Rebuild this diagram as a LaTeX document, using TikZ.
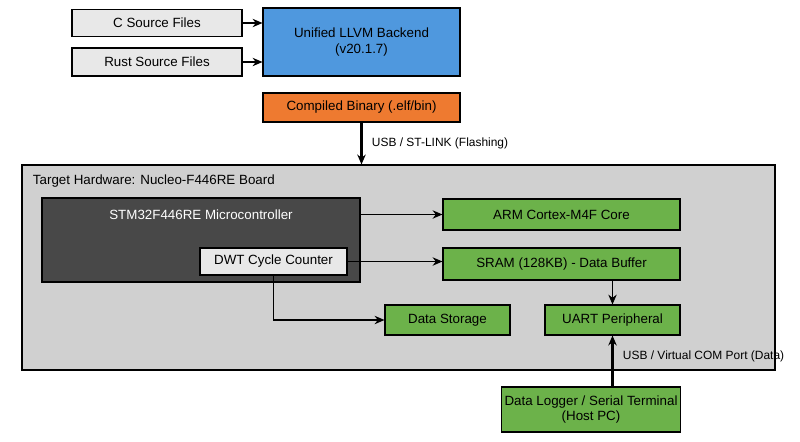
\documentclass[tikz,border=0pt]{standalone}
\usepackage{fontspec}
\setmainfont{Liberation Sans}
\usetikzlibrary{arrows.meta,positioning}
\definecolor{srcgray}{RGB}{232,232,232}
\definecolor{llvmblue}{RGB}{79,152,222}
\definecolor{binorange}{RGB}{238,122,48}
\definecolor{boardgray}{RGB}{208,208,208}
\definecolor{mcudark}{RGB}{72,72,72}
\definecolor{periphgreen}{RGB}{108,178,74}

\begin{document}
\begin{tikzpicture}[x=0.025cm,y=-0.025cm,>={Stealth[length=7pt,width=6pt]},
  every node/.style={font=\fontsize{9.5}{11}\selectfont},
  box/.style={draw=black,thick,minimum height=#1*0.025cm,inner sep=2pt},
  box/.default=28,
  flow/.style={->,thick},
  bigflow/.style={->,line width=2.2pt},
  linklbl/.style={right,xshift=3pt,font=\fontsize{8.5}{10}\selectfont}]
  \useasboundingbox (0,0) rectangle (800,441);

  % sources and toolchain
  \node[box=27,fill=srcgray,minimum width=170*0.025cm] (csrc) at (157,23) {C Source Files};
  \node[box=28,fill=srcgray,minimum width=170*0.025cm] (rustsrc) at (157,62) {Rust Source Files};
  \node[box=68,fill=llvmblue,minimum width=197*0.025cm,align=center] (llvm) at (361.5,42) {Unified LLVM Backend\\(v20.1.7)};
  \node[box=29,fill=binorange,minimum width=197*0.025cm] (bin) at (361.5,107.5) {Compiled Binary (.elf/bin)};

  % board
  \node[draw=black,thick,fill=boardgray,minimum width=753*0.025cm,minimum height=205*0.025cm] (board) at (398.5,267.5) {};
  \node[anchor=west] (boardlbl) at (28,181) {Target Hardware: Nucleo-F446RE Board};
  \node[draw=black,thick,fill=mcudark,minimum width=318*0.025cm,minimum height=84*0.025cm] (mcu) at (201,240) {};
  \node[text=white] (mcultl) at (201,215) {STM32F446RE Microcontroller};
  \node[box=27,fill=srcgray,minimum width=147*0.025cm] (dwt) at (273.5,261.5) {DWT Cycle Counter};

  \node[box=31,fill=periphgreen,minimum width=237*0.025cm] (arm) at (561.5,214.5) {ARM Cortex-M4F Core};
  \node[box=32,fill=periphgreen,minimum width=237*0.025cm] (sram) at (561.5,264) {SRAM (128KB) - Data Buffer};
  \node[box=30,fill=periphgreen,minimum width=125*0.025cm] (store) at (447.5,320) {Data Storage};
  \node[box=30,fill=periphgreen,minimum width=135*0.025cm] (uart) at (612.5,320) {UART Peripheral};
  \node[box=45,fill=periphgreen,minimum width=178*0.025cm,align=center] (host) at (591,409.5) {Data Logger / Serial Terminal\\(Host PC)};

  % connectors
  \draw[flow] (csrc) -- (csrc -| llvm.west);
  \draw[flow] (rustsrc) -- (rustsrc -| llvm.west);
  \draw[bigflow] (bin) -- node[linklbl] {USB / ST-LINK (Flashing)} (bin |- board.north);
  \draw[flow] (mcu.east |- arm) -- (arm);
  \draw[flow] (dwt) -- (sram.west |- dwt);
  \draw[flow] (dwt) |- (store);
  \draw[->,semithick] (sram.south -| uart) -- (uart);
  \draw[bigflow] (host.north -| uart) -- node[linklbl,pos=0.6] {USB / Virtual COM Port (Data)} (uart);
\end{tikzpicture}
\end{document}
